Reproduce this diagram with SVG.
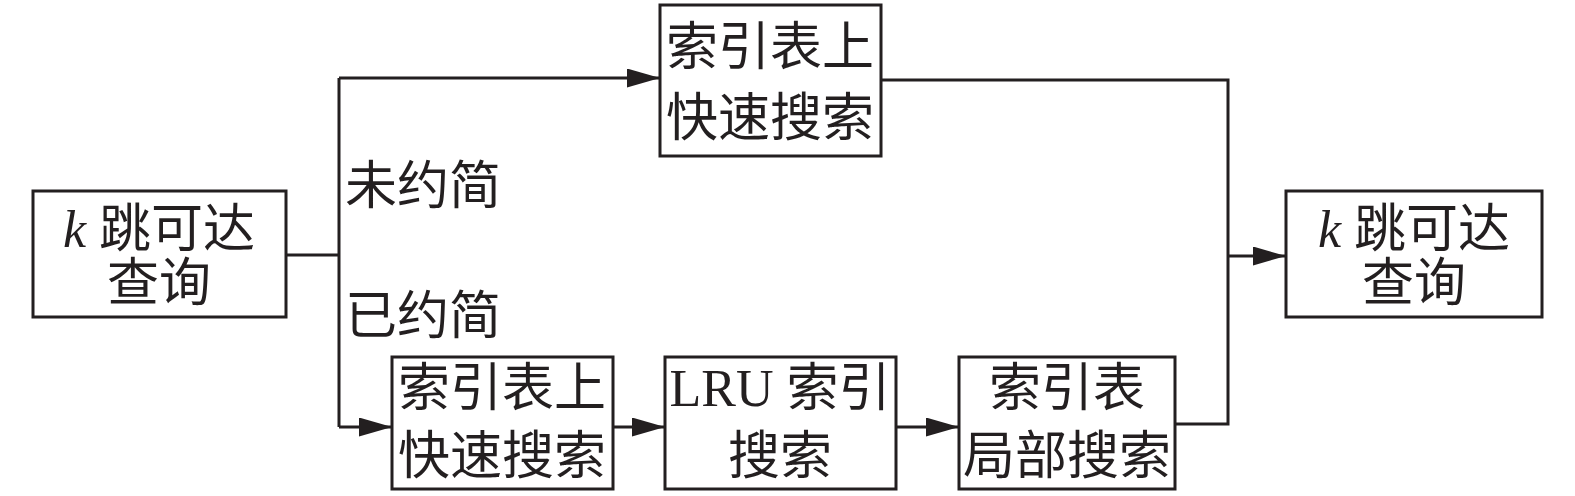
<svg xmlns="http://www.w3.org/2000/svg" width="1575" height="496" viewBox="0 0 1575 496">
<style>
.box{fill:#fff;stroke:#231f20;stroke-width:3}
.ln{fill:none;stroke:#231f20;stroke-width:3}
.t{font-family:"Liberation Serif","Noto Sans CJK SC",serif;font-size:52px;fill:#231f20;text-anchor:middle}
.it{font-style:italic}
</style>
<defs>
<marker id="ah" viewBox="0 0 33 19" refX="33" refY="9.5" markerWidth="33" markerHeight="19" markerUnits="userSpaceOnUse" orient="auto">
<path d="M0,0 L33,9.5 L0,19 Z" fill="#231f20"/>
</marker>
</defs>
<g id="connectors">
<polyline class="ln" points="286,255 339,255"/>
<polyline class="ln" points="339,78 339,427"/>
<polyline class="ln" points="339,78 660,78" marker-end="url(#ah)"/>
<polyline class="ln" points="339,427 392,427" marker-end="url(#ah)"/>
<polyline class="ln" points="613,427 665,427" marker-end="url(#ah)"/>
<polyline class="ln" points="896,427 959,427" marker-end="url(#ah)"/>
<polyline class="ln" points="881,80 1228,80 1228,424 1175,424"/>
<polyline class="ln" points="1228,256 1286,256" marker-end="url(#ah)"/>
</g>
<g id="label-unreduced"><text class="t" x="345" y="204" style="text-anchor:start">未约简</text></g>
<g id="label-reduced"><text class="t" x="345" y="334" style="text-anchor:start">已约简</text></g>
<g id="node-start">
<rect class="box" x="33" y="191" width="253" height="126"/>
<text class="t" x="159" y="247"><tspan class="it">k</tspan> 跳可达</text>
<text class="t" x="159" y="301">查询</text>
</g>
<g id="node-fast-top">
<rect class="box" x="660" y="5" width="221" height="151"/>
<text class="t" x="770" y="65">索引表上</text>
<text class="t" x="770" y="136">快速搜索</text>
</g>
<g id="node-fast-bottom">
<rect class="box" x="392" y="357" width="221" height="132"/>
<text class="t" x="502" y="406">索引表上</text>
<text class="t" x="502" y="474">快速搜索</text>
</g>
<g id="node-lru">
<rect class="box" x="665" y="357" width="231" height="132"/>
<text class="t" x="780" y="406">LRU 索引</text>
<text class="t" x="780" y="474">搜索</text>
</g>
<g id="node-local">
<rect class="box" x="959" y="357" width="216" height="132"/>
<text class="t" x="1067" y="406">索引表</text>
<text class="t" x="1067" y="474">局部搜索</text>
</g>
<g id="node-end">
<rect class="box" x="1286" y="191" width="256" height="126"/>
<text class="t" x="1414" y="247"><tspan class="it">k</tspan> 跳可达</text>
<text class="t" x="1414" y="301">查询</text>
</g>
</svg>
